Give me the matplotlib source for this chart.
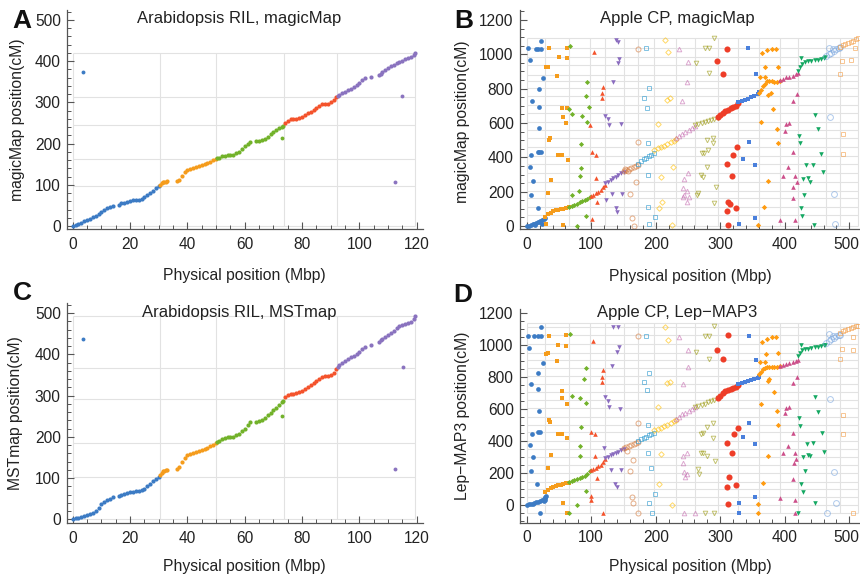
import matplotlib
matplotlib.use('Agg')
import matplotlib.pyplot as plt
from matplotlib.ticker import MultipleLocator
from matplotlib.transforms import ScaledTranslation

plt.rcParams['font.family'] = ['Liberation Sans', 'DejaVu Sans']

# ---------------- Arabidopsis RIL (panels A, C) ----------------
ara_colors = ['#3c7bc4', '#f59c1c', '#72b22a', '#f4532c', '#8a73bf']
ara_x = [
    [0, 1, 2, 3, 4, 5, 6, 7, 8, 9, 10, 11, 12, 13, 14, 16, 17, 18, 19, 20, 21, 22, 23, 24, 25, 26, 27, 28, 29, 30],
    [30.5, 31, 31.5, 32, 32.5, 33, 36.5, 37, 38, 39, 40, 41, 42, 43, 44, 45, 46, 47, 48, 49, 50],
    [50.5, 51, 52, 53, 54, 55, 56, 57, 58, 59, 60, 61, 62, 64, 65, 66, 67, 68, 69, 70, 71, 72, 73, 73.5],
    [74, 75, 76, 77, 78, 79, 80, 81, 82, 83, 84, 85, 86, 87, 88, 89, 90, 91, 92],
    [92.5, 93, 94, 95, 96, 97, 98, 99, 100, 101, 102, 104, 107, 107.5, 108, 109, 110, 111, 112, 113, 114, 115, 116, 117, 118, 119, 119.5],
]
magic_y = [
    [0, 3, 5, 8, 11, 14, 17, 21, 25, 30, 35, 39, 43, 46, 48, 52, 55, 57, 59, 61, 62, 63, 64, 65, 70, 75, 81, 86, 91, 96],
    [100, 104, 106, 107, 107, 108, 108, 112, 122, 130, 135, 138, 141, 143, 145, 147, 150, 153, 156, 159, 162],
    [164, 166, 169, 171, 172, 172, 173, 176, 180, 186, 193, 199, 204, 205, 206, 208, 212, 217, 222, 228, 233, 237, 241, 243],
    [250, 255, 259, 260, 260, 262, 265, 269, 273, 277, 282, 287, 292, 295, 296, 297, 300, 305, 312],
    [315, 318, 322, 326, 329, 332, 336, 341, 347, 353, 359, 362, 366, 369, 373, 379, 383, 387, 391, 396, 399, 401, 404, 407, 411, 416, 419],
]
mst_y = [
    [0, 2, 4, 6, 8, 10, 13, 16, 21, 28, 36, 41, 46, 50, 53, 56, 59, 61, 64, 66, 67, 68, 69, 70, 74, 80, 86, 92, 98, 103],
    [108, 112, 116, 118, 119, 120, 122, 127, 140, 148, 155, 158, 161, 163, 165, 167, 170, 173, 177, 181, 186],
    [188, 191, 194, 197, 199, 199, 200, 204, 208, 214, 220, 228, 236, 237, 238, 241, 246, 252, 258, 265, 271, 277, 284, 288],
    [297, 302, 304, 305, 306, 308, 311, 315, 320, 325, 330, 336, 341, 345, 347, 348, 350, 355, 364],
    [370, 374, 380, 385, 389, 393, 397, 402, 407, 413, 419, 424, 431, 434, 438, 443, 448, 453, 458, 464, 469, 472, 473, 475, 479, 485, 492],
]
magic_out_x = [3.5, 73, 115, 112.5]
magic_out_y = [374, 213, 315, 107]
mst_out_x = [3.5, 73, 115.3, 112.4]
mst_out_y = [437, 251, 369, 121]
out_chr = [0, 2, 4, 4]
ara_grid_x = [0, 30.4, 50.1, 73.6, 92.2, 119.5]
magic_grid_y = [0, 96, 162, 246, 313, 419]
mst_grid_y = [0, 103, 186, 293, 367, 492]

# ---------------- Apple CP (panels B, D) ----------------
apple_colors = ['#3c7bc4', '#f59c1c', '#72b22a', '#f4532c', '#8a6cbf', '#d4783a', '#2e9bd0', '#ffbf00',
                '#c66fb2', '#9c9a12', '#ee3d28', '#4a80dc', '#ff9b10', '#cc4f8a', '#14a862', '#7aa6df', '#f3a04c']
apple_diag_x = [
    [0, 3, 6, 9, 12, 15, 18, 21, 24, 27, 29],
    [29, 33, 37, 41, 45, 49, 53, 57, 61, 65],
    [66, 70, 74, 78, 82, 86, 90, 94, 98],
    [99, 103, 107, 111, 115, 119, 122],
    [122, 126, 130, 134, 138, 142, 146, 150],
    [150, 154, 158, 162, 166, 170, 173],
    [173, 177, 181, 185, 189, 193, 198],
    [198, 203, 208, 213, 218, 223, 228, 231],
    [231, 236, 241, 246, 251, 256, 261],
    [261, 266, 271, 276, 281, 286, 291, 296],
    [296, 300, 304, 308, 312, 316, 320, 324, 328],
    [328, 333, 338, 343, 348, 353, 358, 360],
    [360, 363, 366, 369, 372, 376, 380, 384, 388, 392],
    [392, 397, 402, 407, 412, 417, 421],
    [421, 424, 427, 431, 436, 441, 446, 451, 456, 461, 463],
    [464, 468, 472, 476, 480, 484, 486],
    [486, 490, 494, 498, 502, 506, 510, 514],
]
magicB_diag_y = [
    [0, 3, 6, 10, 14, 18, 24, 30, 36, 42, 48],
    [55, 68, 78, 86, 92, 96, 98, 100, 103, 108],
    [110, 115, 122, 130, 138, 146, 152, 160, 170],
    [176, 182, 190, 198, 210, 225, 240],
    [250, 258, 268, 278, 288, 298, 306, 316],
    [318, 325, 332, 340, 346, 352, 358],
    [362, 378, 390, 398, 405, 412, 425],
    [440, 452, 460, 468, 478, 488, 498, 506],
    [510, 522, 535, 548, 560, 572, 585],
    [590, 595, 600, 606, 612, 618, 625, 632],
    [634, 645, 660, 670, 678, 685, 692, 700, 715],
    [722, 728, 735, 742, 750, 758, 770, 778],
    [775, 795, 815, 830, 842, 845, 843, 840, 840, 845],
    [850, 858, 865, 870, 876, 884, 892],
    [905, 925, 945, 955, 960, 962, 965, 968, 972, 980, 985],
    [990, 1000, 1010, 1020, 1028, 1035, 1040],
    [1044, 1052, 1060, 1066, 1072, 1080, 1087, 1094],
]
lep_diag_y = [
    [5, 6, 8, 11, 15, 19, 23, 28, 34, 42, 52],
    [85, 98, 108, 115, 120, 125, 129, 133, 137, 141],
    [148, 152, 157, 162, 168, 175, 184, 195, 212],
    [220, 228, 236, 245, 255, 270, 290],
    [298, 305, 312, 320, 328, 336, 344, 354],
    [356, 362, 368, 375, 382, 390, 398],
    [405, 414, 422, 430, 438, 444, 452],
    [470, 478, 486, 494, 504, 514, 524, 532],
    [540, 555, 568, 580, 592, 602, 612],
    [612, 618, 626, 635, 644, 652, 660, 668],
    [672, 685, 700, 712, 720, 726, 732, 740, 752],
    [758, 764, 770, 776, 782, 788, 796, 804],
    [820, 835, 850, 860, 864, 866, 867, 866, 866, 868],
    [872, 878, 884, 890, 896, 902, 910],
    [935, 955, 968, 975, 980, 984, 988, 992, 996, 1000, 1004],
    [1012, 1025, 1038, 1048, 1056, 1062, 1066],
    [1078, 1088, 1096, 1102, 1108, 1113, 1118, 1122],
]
magicB_off_x = [
    [2.5, 5.1, 22.2, 13.9, 18, 22.2, 25.8, 19, 7.7, 19, 19.6, 17, 19.6, 22, 6.7, 5.6, 10.3, 6.7, 17, 20.6, 23.2, 12.9],
    [35, 50, 62, 62, 29.4, 33, 47, 54, 55.8, 62, 60.4, 36, 35, 49, 54, 63.5, 37.7, 33.5, 29.4, 57],
    [67, 93, 91.4, 97, 66, 69.7, 85, 93, 83.7, 83.7, 82.6, 69.7, 81.5, 92, 78.4],
    [104, 118.7, 117, 117, 98, 100.7, 107.4, 107.4, 109, 100.7],
    [138, 141, 143.5, 141, 133, 121, 126, 128, 146, 123, 132, 147, 138, 140.5],
    [173, 173, 160, 169, 163.7, 166, 152, 157.5],
    [185, 190, 182, 187, 188.5, 187.5, 188.5, 199, 190],
    [214, 218.5, 222, 217, 203, 207.6, 227, 205, 209, 224.7],
    [236.6, 249.5, 249, 240, 250.4, 243.8, 242.7, 241.7, 252, 249, 243, 248],
    [290, 276, 283, 262, 283, 289, 280, 275, 271, 281.5, 289, 269.6, 273.7, 280, 293, 266, 263.4, 290],
    [311, 295, 304.7, 326, 320, 310, 317.7, 312.4, 315, 325, 311, 311.5],
    [343.4, 355, 344.5, 334.7, 353.8, 353.8, 329.5],
    [365, 372, 379.7, 386.4, 369, 390, 361.5, 369, 374.4, 378, 382, 362.6, 387.4, 389, 374.4, 367.7, 359],
    [418.4, 412, 401.8, 407, 400, 413, 405.4, 397.7, 415.8, 418.4, 413, 413, 392.5, 415.8],
    [424.6, 446.8, 452, 422.4, 423.5, 456, 433, 443.2, 459.6, 428.6, 436.4, 439, 430, 424.6, 427, 445.7],
    [469, 474, 470, 476, 477.8],
    [488, 485.5, 490.6, 489.7, 502.6, 508.8],
]
magicB_off_y = [
    [1035, 967, 1076, 1031, 1031, 1031, 864, 796, 728, 695, 569, 433, 433, 433, 414, 345, 264, 180, 107, 25, 10, 6],
    [1039, 983, 1039, 980, 928, 928, 874, 689, 637, 686, 598, 511, 501, 414, 414, 384, 268, 190, 10, 6],
    [1048, 837, 759, 695, 682, 652, 641, 608, 476, 340, 293, 180, 204, 58, 0],
    [1012, 812, 773, 743, 588, 433, 414, 278, 142, 39],
    [1083, 1070, 973, 951, 840, 643, 623, 588, 592, 151, 185, 185, 103, 83],
    [1031, 491, 185, 258, 48, 2, 332, 320],
    [1035, 802, 747, 686, 482, 297, 112, 54, 12],
    [1083, 1012, 747, 734, 592, 287, 345, 103, 142, 6],
    [1029, 957, 837, 728, 307, 274, 220, 171, 171, 204, 181, 142],
    [1093, 1035, 1035, 948, 889, 511, 501, 423, 423, 443, 482, 297, 287, 345, 229, 190, 180, 136],
    [1029, 961, 884, 462, 414, 359, 293, 142, 128, 103, 87, 6],
    [1039, 884, 491, 390, 355, 45, 10],
    [1006, 1025, 1031, 1031, 928, 928, 870, 870, 763, 773, 682, 604, 563, 482, 262, 112, 6],
    [769, 728, 592, 602, 553, 429, 345, 293, 291, 258, 229, 165, 35, 35],
    [980, 647, 565, 526, 482, 418, 355, 355, 313, 274, 281, 258, 180, 107, 58, 6],
    [1039, 1031, 637, 185, 10],
    [961, 884, 536, 418, 967, 1035],
]
lep_off_x = [
    [22.2, 1.5, 11.8, 17, 22.2, 3.6, 24.8, 18, 6.7, 18, 19, 18, 20.6, 7.7, 5.1, 10.3, 6.7, 15.5, 20.6, 27, 28, 29, 30],
    [35, 60.4, 49, 61, 30, 33.5, 46.5, 54, 55, 62, 35, 36, 49, 54, 62, 37, 32.5, 56.7, 62],
    [67, 92, 89, 69.7, 83, 91.4, 84, 83, 83, 91.4, 78, 66],
    [103, 118.7, 117, 116, 99.6, 105.8, 105.8, 108.5, 99.6, 99.6, 118.7],
    [134, 142, 143, 139.5, 132.7, 121, 126.5, 128, 145, 120, 130.6, 146, 137, 139.5],
    [173, 173, 160, 165, 162.7, 165, 155, 173],
    [185, 189.5, 181, 187, 188.5, 187.5, 192.6, 199, 190, 193.7],
    [214, 218.5, 222, 217, 203, 207.6, 205, 224.7],
    [236.6, 250.5, 249.5, 241.7, 249, 242.7, 241.7, 243.8, 249, 245.3, 260.8, 243.8],
    [290, 276, 283, 262, 283, 289, 280, 273.7, 269.6, 289, 269.6, 273.7, 280, 292, 266, 267.5, 290, 276],
    [311.5, 295.4, 303.7, 327, 321, 310, 317.7, 313.5, 311, 325, 312.4],
    [344.5, 355, 345, 335.7, 353.8, 353.8, 329.5, 328.5],
    [365, 372, 379.7, 386.4, 371, 390, 361.5, 369, 376, 374.4, 383, 362.6, 388.4, 390, 374.4, 366.6, 359, 359],
    [418.4, 412, 401.8, 407, 400, 413, 405.4, 397.7, 415.8, 417.3, 414.4, 413, 392.5, 415.8, 415.8],
    [424.6, 446.8, 452, 422.4, 423.5, 457.2, 434, 443.2, 460.7, 428.6, 436.4, 439, 431, 424.6, 427.7, 446.8, 421],
    [469, 474, 470, 476, 478.8, 465],
    [488, 485.5, 490.6, 489.7, 506, 505, 506],
]
lep_off_y = [
    [1112, 1058, 1058, 1058, 1058, 981, 891, 825, 756, 727, 591, 456, 460, 446, 377, 300, 214, 131, -46, 25, 35, 45, 60],
    [1058, 1064, 1002, 996, 944, 950, 902, 716, 669, 631, 533, 523, 446, 446, 419, 314, 235, 16, -46],
    [1071, 860, 787, 685, 669, 637, 491, 371, 308, 89, 2, -46],
    [1029, 846, 804, 769, 458, 446, 308, 169, 58, 33, -46],
    [1112, 1112, 991, 960, 871, 675, 654, 613, 600, 356, 221, 221, 133, 112],
    [1058, 512, 214, 283, 54, 12, 341, -46],
    [1058, 829, 771, 721, 502, 329, 231, 71, 16, -46],
    [1112, 1033, 773, 762, 613, 319, 133, 2],
    [1050, 971, 862, 758, 329, 308, 266, 210, 196, 179, -46, -46],
    [1121, 1058, 1058, 960, 912, 516, 487, 450, 446, 419, 329, 325, 308, 279, 225, 196, -46, -46],
    [1064, 971, 912, 481, 446, 391, 329, 175, 116, 127, 8],
    [1058, 908, 512, 425, 383, 50, 12, -46],
    [1023, 1037, 1050, 1054, 946, 950, 898, 898, 787, 779, 710, 633, 591, 502, 308, 141, 8, -46],
    [800, 762, 606, 612, 575, 454, 371, 325, 325, 287, 262, 162, 44, 33, -46],
    [1002, 679, 585, 544, 496, 450, 383, 387, 335, 304, 314, 308, 216, 133, 85, 12, -46],
    [1071, 1058, 664, 210, 12, -46],
    [975, 912, 564, 446, -46, 1054, 971],
]
apple_grid_x = [0, 29, 65, 98, 122, 150, 173, 198, 231, 261, 296, 328, 360, 392, 421, 464, 486, 514]
magicB_grid_y = [0, 64, 113, 161, 206, 258, 307, 359, 408, 462, 511, 560, 608, 657, 705, 757, 806, 845,
                 880, 935, 983, 1039, 1093]
lep_grid_y = [-50, 0, 50, 100, 148, 200, 250, 300, 350, 404, 460, 502, 554, 606, 658, 710, 758, 808,
              856, 908, 954, 1008, 1064, 1116, 1137]

apple_markers = ['o', 's', 'D', '^', 'v', 'o', 's', 'D', '^', 'v', 'o', 's', 'D', '^', 'v', 'o', 's']
apple_filled = [True] * 5 + [False] * 5 + [True] * 5 + [False] * 2
apple_msize = [3.4, 2.8, 2.6, 3.3, 3.3, 3.6, 2.8, 2.8, 3.3, 3.3, 4.4, 2.9, 2.7, 3.3, 3.3, 4.2, 3.0]

W, H = 860.0, 579.0
fig = plt.figure(figsize=(8.6, 5.79), dpi=100)


def px_axes(left, right, top, bottom):
    return fig.add_axes([left / W, 1 - bottom / H, (right - left) / W, (bottom - top) / H])


def style(ax, xmaj, xmin, ymaj, ymin):
    for s in ['top', 'right']:
        ax.spines[s].set_visible(False)
    for s in ['left', 'bottom']:
        ax.spines[s].set_color('#555555')
        ax.spines[s].set_linewidth(0.9)
    ax.xaxis.set_major_locator(MultipleLocator(xmaj))
    ax.xaxis.set_minor_locator(MultipleLocator(xmin))
    ax.yaxis.set_major_locator(MultipleLocator(ymaj))
    ax.yaxis.set_minor_locator(MultipleLocator(ymin))
    ax.tick_params(which='major', direction='in', length=5, width=0.8, color='#555555',
                   labelsize=11.2, labelcolor='#222222')
    ax.tick_params(which='minor', direction='in', length=2.8, width=0.7, color='#555555')
    ax.tick_params(axis='x', pad=5.5)
    ax.tick_params(axis='y', pad=4.5)


def grid(ax, gx, gy):
    ax.vlines(gx, gy[0], gy[-1], colors='#e2e2e2', linewidth=0.8, zorder=0.5)
    ax.hlines(gy, gx[0], gx[-1], colors='#e2e2e2', linewidth=0.8, zorder=0.5)


def ara_panel(ax, ys, ox, oy, gy):
    grid(ax, ara_grid_x, gy)
    for i in range(5):
        ax.plot(ara_x[i], ys[i], ls='none', marker='o', ms=3.0, mfc=ara_colors[i],
                mec=ara_colors[i], mew=0, zorder=2)
    for x, y, c in zip(ox, oy, out_chr):
        ax.plot([x], [y], ls='none', marker='o', ms=2.8, mfc=ara_colors[c], mec=ara_colors[c],
                mew=0, zorder=2)
    ax.set_xlim(-2.0, 122.2)
    style(ax, 20, 5, 100, 20)


def apple_panel(ax, dys, oxs, oys, gy):
    grid(ax, apple_grid_x, gy)
    for i in range(17):
        c = apple_colors[i]
        m = apple_markers[i]
        s = apple_msize[i]
        xs = list(apple_diag_x[i]) + list(oxs[i])
        ys = list(dys[i]) + list(oys[i])
        if apple_filled[i]:
            ax.plot(xs, ys, ls='none', marker=m, ms=s, mfc=c, mec=c, mew=0, zorder=2)
        else:
            ax.plot(xs, ys, ls='none', marker=m, ms=s, mfc='none', mec=c, mew=0.7,
                    alpha=0.6, zorder=2)
    ax.set_xlim(-10.4, 516.5)
    style(ax, 100, 20, 200, 50)
    fig.canvas.draw()
    labs = ax.get_xticklabels()
    for lb in labs:
        if lb.get_text() == '500':
            lb.set_transform(lb.get_transform() + ScaledTranslation(-3 / 100, 0, fig.dpi_scale_trans))


axA = px_axes(67, 423, 10, 229.3)
ara_panel(axA, magic_y, magic_out_x, magic_out_y, magic_grid_y)
axA.set_ylim(-8, 524)

axB = px_axes(520, 860, 10, 229.3)
axB.set_ylim(-19, 1258)
apple_panel(axB, magicB_diag_y, magicB_off_x, magicB_off_y, magicB_grid_y)

axC = px_axes(67, 423, 303.3, 523.3)
ara_panel(axC, mst_y, mst_out_x, mst_out_y, mst_grid_y)
axC.set_ylim(-9.7, 524)

axD = px_axes(520, 860, 309.3, 522.7)
axD.set_ylim(-108.7, 1225)
apple_panel(axD, lep_diag_y, lep_off_x, lep_off_y, lep_grid_y)

tcol = '#222222'


def ftext(x, y, s, **kw):
    fig.text(x / W, 1 - y / H, s, color=tcol, ha='center', va='center', **kw)


# panel letters
for (lx, ly, L) in [(22, 21, 'A'), (464, 21, 'B'), (22, 293, 'C'), (463, 295, 'D')]:
    fig.text(lx / W, 1 - ly / H, L, fontsize=19, fontweight='bold', ha='center', va='center',
             color='#111111')

# titles
ftext(239, 18, 'Arabidopsis RIL, magicMap', fontsize=12)
ftext(677, 18, 'Apple CP, magicMap', fontsize=12)
ftext(239, 313, 'Arabidopsis RIL, MSTmap', fontsize=12)
ftext(677, 313, 'Apple CP, Lep\u2212MAP3', fontsize=12)

# axis labels
ftext(244, 275, 'Physical position (Mbp)', fontsize=11.3)
ftext(690, 277, 'Physical position (Mbp)', fontsize=11.3)
ftext(244, 567, 'Physical position (Mbp)', fontsize=11.3)
ftext(690, 567, 'Physical position (Mbp)', fontsize=11.3)
ftext(18, 120, 'magicMap position(cM)', fontsize=11.3, rotation=90)
ftext(463, 122, 'magicMap position(cM)', fontsize=11.3, rotation=90)
ftext(16, 413, 'MSTmap position(cM)', fontsize=11.3, rotation=90)
ftext(462, 416, 'Lep\u2212MAP3 position(cM)', fontsize=11.3, rotation=90)

fig.savefig('out.png', dpi=100)
